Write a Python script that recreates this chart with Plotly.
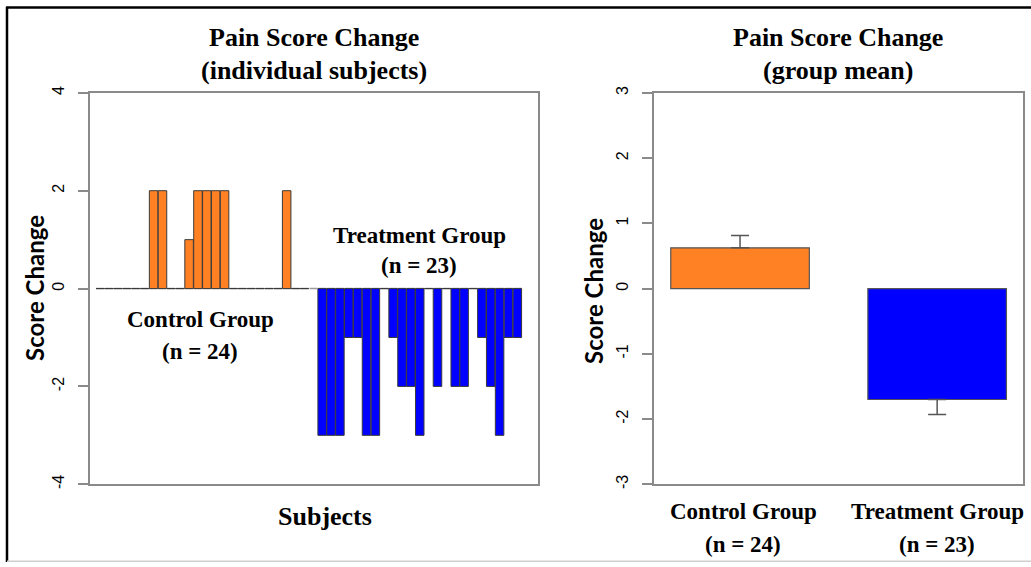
import plotly.graph_objects as go

# ---------------- data ----------------
control_scores = [0, 0, 0, 0, 0, 0, 2, 2, 0, 0, 1, 2, 2, 2, 2, 0, 0, 0, 0, 0, 0, 2, 0, 0]
treatment_scores = [-3, -3, -3, -1, -1, -3, -3, 0, -1, -2, -2, -3, 0, -2, 0, -2, -2, 0,
                    -1, -2, -3, -1, -1]
group_names = ["Control Group", "Treatment Group"]
group_n = ["(n = 24)", "(n = 23)"]
group_means = [0.625, -1.70]
group_se_up = [0.19, 0.0]
group_se_down = [0.0, 0.23]
left_yticks = [-4, -2, 0, 2, 4]
right_yticks = [-3, -2, -1, 0, 1, 2, 3]

ORANGE = "#FF8124"
BLUE = "#0000FF"
GREY = "#8a8a8a"
SERIF = "Liberation Serif"
SANS = "Liberation Sans"

W, H = 1031, 567
VSTRETCH = 1.0235   # compensates the vertical squeeze seen in the rendered picture
def px(x):
    return x / W
def py(y):
    yy = 287 + (y - 287) * VSTRETCH
    yy = min(max(yy, 0.0), H)
    return 1 - yy / H

control_slots = list(range(len(control_scores)))
treatment_slots = list(range(len(control_scores) + 1,
                             len(control_scores) + 1 + len(treatment_scores)))

fig = go.Figure()

fig.add_trace(go.Bar(x=control_slots, y=control_scores, width=0.96,
                     marker=dict(color=ORANGE, line=dict(color="#3a3a3a", width=1)),
                     xaxis="x", yaxis="y", hoverinfo="skip"))
fig.add_trace(go.Bar(x=treatment_slots, y=treatment_scores, width=0.96,
                     marker=dict(color=BLUE, line=dict(color="#3a3a3a", width=1)),
                     xaxis="x", yaxis="y", hoverinfo="skip"))

fig.add_trace(go.Bar(x=[0, 1], y=group_means, width=0.703,
                     marker=dict(color=[ORANGE, BLUE], line=dict(color="#555555", width=1.2)),
                     error_y=dict(type="data", symmetric=False, array=group_se_up,
                                  arrayminus=group_se_down, color="#555555",
                                  thickness=1.5, width=9),
                     xaxis="x2", yaxis="y2", hoverinfo="skip"))

ydom = [py(483.0), py(92.3)]
axis_common = dict(showline=True, mirror=True, linecolor=GREY, linewidth=1.5,
                   showgrid=False, zeroline=False)
yaxis_common = dict(ticks="outside", ticklen=10, tickcolor=GREY, tickwidth=1.5,
                    tickangle=-90, tickfont=dict(family=SANS, size=16, color="black"),
                    ticklabelstandoff=8, **axis_common)

fig.update_layout(
    width=W, height=H,
    margin=dict(l=0, r=0, t=0, b=0),
    paper_bgcolor="white", plot_bgcolor="white",
    showlegend=False,
    barmode="overlay",
    xaxis=dict(domain=[px(90), px(538)], range=[-1.17, 49.33], showticklabels=False,
               ticks="", anchor="y", **axis_common),
    yaxis=dict(domain=ydom, range=[-4, 4], tickvals=left_yticks,
               ticktext=[str(v) for v in left_yticks], anchor="x", **yaxis_common),
    xaxis2=dict(domain=[px(654), px(1023)], range=[-0.4365, 1.4355],
                showticklabels=False, ticks="", anchor="y2", **axis_common),
    yaxis2=dict(domain=ydom, range=[-3, 3], tickvals=right_yticks,
                ticktext=[str(v) for v in right_yticks], anchor="x2", **yaxis_common),
)

# zero line made of the zero-height bar borders
fig.add_shape(type="line", xref="x", yref="y", x0=-0.5, x1=treatment_slots[-1] + 0.5,
              y0=0, y1=0, layer="below",
              line=dict(color="#9a9a9a", width=1.5, dash="7.9px,1px"))

def ann(text, x, y, size, family=SERIF, angle=0):
    fig.add_annotation(text=text, x=px(x), y=py(y), xref="paper", yref="paper",
                       showarrow=False, xanchor="center", yanchor="middle",
                       textangle=angle,
                       font=dict(family=family, size=size, color="black"))

# titles
ann("<b>Pain Score Change</b>", 314, 37, 26)
ann("<b>(individual subjects)</b>", 314, 70, 26)
ann("<b>Pain Score Change</b>", 838, 37, 26)
ann("<b>(group mean)</b>", 838, 70, 26)

# axis titles
ann("<b>Subjects</b>", 325, 515, 26)
ann("<b>Score Change</b>", 35, 287, 24, family="Lato", angle=-90)
ann("<b>Score Change</b>", 594, 290, 24, family="Lato", angle=-90)

# group labels, left panel
ann("<b>" + group_names[0] + "</b>", 200, 319, 23)
ann("<b>" + group_n[0] + "</b>", 200, 350, 23)
ann("<b>" + group_names[1] + "</b>", 419, 235, 23)
ann("<b>" + group_n[1] + "</b>", 419, 265, 23)

# category labels, right panel
ann("<b>" + group_names[0] + "</b>", 743, 510, 23)
ann("<b>" + group_n[0] + "</b>", 743, 543, 23)
ann("<b>" + group_names[1] + "</b>", 937, 510, 23)
ann("<b>" + group_n[1] + "</b>", 937, 543, 23)

# outer frame
fig.add_shape(type="line", xref="paper", yref="paper", x0=px(7), x1=px(7),
              y0=py(6), y1=0, line=dict(color="black", width=2.5))
fig.add_shape(type="line", xref="paper", yref="paper", x0=px(6), x1=1,
              y0=py(7.2), y1=py(7.2), line=dict(color="black", width=2.5))
fig.add_shape(type="line", xref="paper", yref="paper", x0=px(7), x1=1,
              y0=1 - 566.2 / H, y1=1 - 566.2 / H, line=dict(color="#cfcfcf", width=1.5))

fig.write_html("out.html",
               config={"displayModeBar": False},
               post_script="document.body.style.margin='0';"
                           "document.body.style.overflow='hidden';")
